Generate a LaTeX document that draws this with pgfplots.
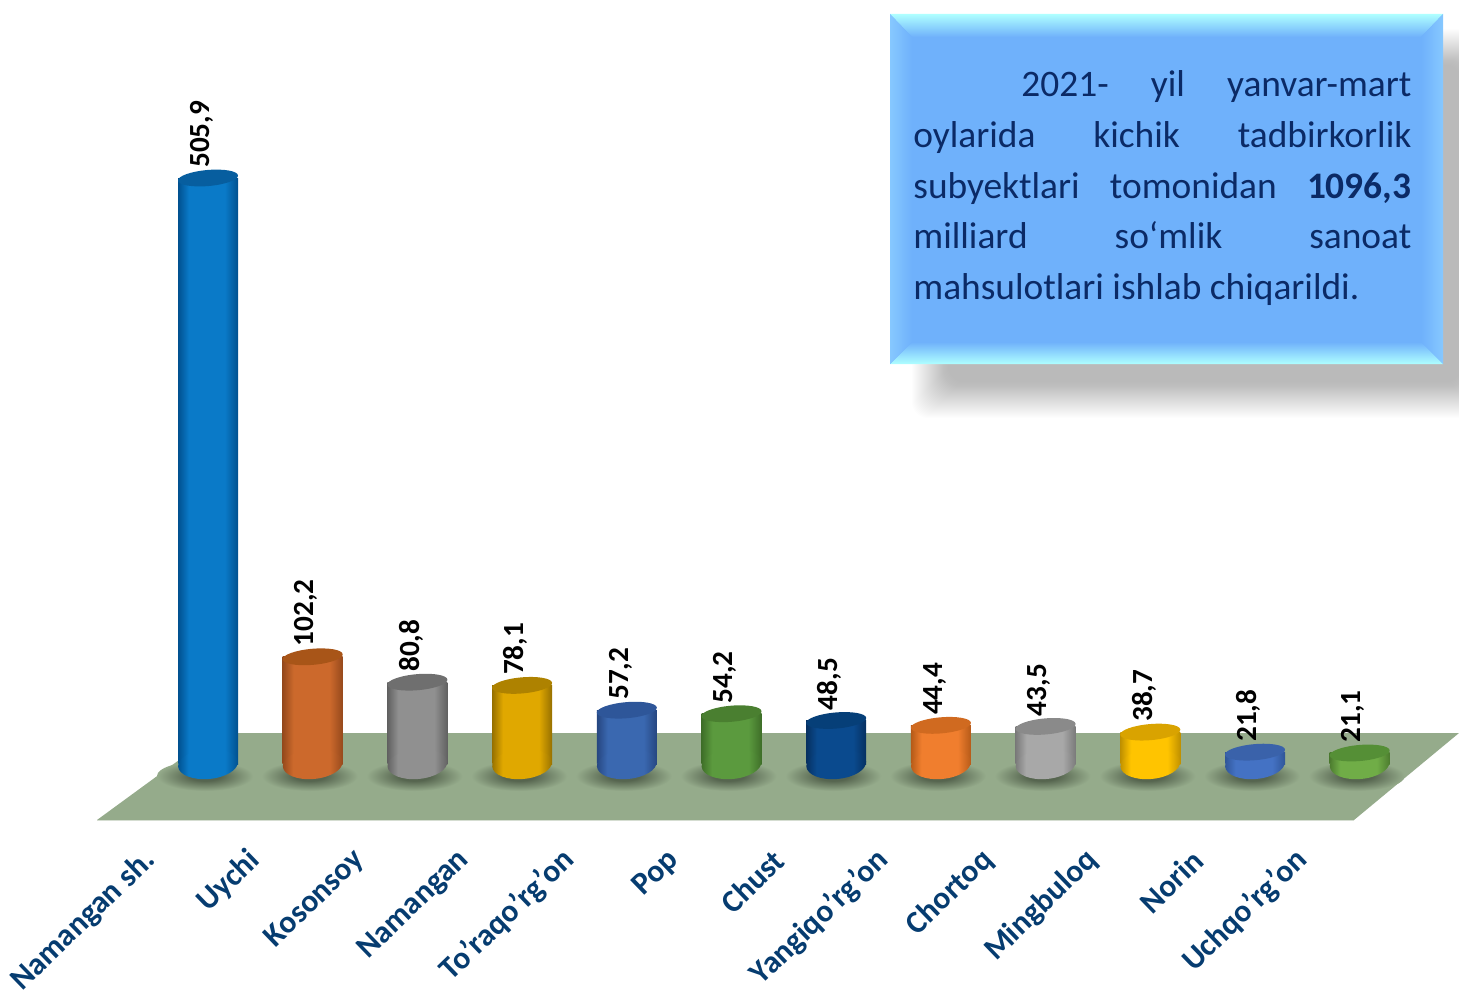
\documentclass[border=0pt]{standalone}
\usepackage{fontspec}
\setmainfont{Carlito}
\usepackage{pgfplots}
\pgfplotsset{compat=1.18}
\usetikzlibrary{shapes.geometric}
\pgfdeclareplotmark{topell}{\pgfpathellipse{\pgfpointorigin}{\pgfqpoint{15pt}{1.3pt}}{\pgfqpoint{-0.35pt}{4pt}}\pgfusepathqfill}
\newcommand\defcyl[4]{%
  \definecolor{e#1}{HTML}{#2}\definecolor{m#1}{HTML}{#3}\definecolor{t#1}{HTML}{#4}%
  \pgfdeclarehorizontalshading{cyl#1}{100bp}{color(0bp)=(e#1);color(25bp)=(e#1);color(34bp)=(m#1);color(64bp)=(m#1);color(75bp)=(e#1);color(100bp)=(e#1)}}
\defcyl{A}{00508F}{0A7AC8}{075E9F}
\defcyl{B}{96491C}{CC692C}{A85518}
\defcyl{C}{616161}{909090}{6F6F6F}
\defcyl{D}{967000}{E0A800}{AE8200}
\defcyl{E}{264680}{3A68B0}{2E5699}
\defcyl{F}{3E6E28}{5B9A3E}{4A7F30}
\defcyl{G}{063060}{0A4A8E}{063F78}
\defcyl{H}{B55A18}{F07E2E}{D06A20}
\defcyl{I}{7A7A7A}{A8A8A8}{8A8A8A}
\defcyl{J}{BF9000}{FFC400}{D9A300}
\defcyl{K}{2F5597}{4472C4}{3A62AA}
\defcyl{L}{4B7A2E}{70AD47}{558F36}
\definecolor{floorc}{HTML}{95AB8B}
\definecolor{shadowc}{HTML}{56654F}
\definecolor{boxc}{HTML}{6FB1FB}
\definecolor{bevel}{HTML}{AFFFFF}
\definecolor{bevelside}{HTML}{86C8FF}
\definecolor{boxtext}{HTML}{0B2A66}
\definecolor{ticktext}{HTML}{063C70}
\pgfdeclareradialshading{floorshadow}{\pgfpoint{0bp}{0bp}}{color(0bp)=(shadowc);color(8bp)=(shadowc);color(25bp)=(floorc);color(50bp)=(floorc)}
\newcommand\basey{11.8}
\newcommand\cyl[3]{%
  \addplot[only marks, mark=none, nodes near coords={},
    every node near coord/.style={ellipse, draw=none, inner sep=0pt, minimum width=48pt, minimum height=15pt,
      anchor=center, shade, shading=floorshadow, xshift=-1.5pt, yshift=-6pt}]
    coordinates {(#1,\basey)};
  \addplot[only marks, mark=none, nodes near coords={},
    every node near coord/.style={ellipse, draw=none, inner sep=0pt, minimum width=30pt, minimum height=15pt,
      anchor=center, shade, shading=cyl#3, rotate=5, yshift=0pt}]
    coordinates {(#1,\basey)};
  \addplot[ybar, bar width=30pt, bar shift=0pt, draw=none, shade, shading=cyl#3]
    coordinates {(#1,#2)};
  \addplot[only marks, mark=topell, mark options={fill=t#3, draw=none},
    nodes near coords,
    every node near coord/.style={xshift=-3.2pt, yshift=5pt, rotate=90, anchor=west, inner sep=0pt,
      text=black, font=\fontsize{14.6}{16}\selectfont\bfseries,
      /pgf/number format/.cd, fixed, fixed zerofill, precision=1, use comma, 1000 sep={}, assume math mode=true}]
    coordinates {(#1,#2)};
}
\begin{document}
\begin{tikzpicture}
\path[use as bounding box] (0,-114pt) rectangle (729.5pt,382pt);
\begin{scope}[x=.5pt,y=-.5pt,yshift=382pt]
  \fill[floorc] (97,820) -- (1354,820) -- (1459,733) -- (216,733) -- cycle;
  \draw[color=floorc!40!white,line width=.7pt] (97,820.5) -- (1354,820.5);
\end{scope}
\begin{axis}[
  at={(0,0)}, anchor=south west, scale only axis,
  width=729.5pt, height=382pt,
  xmin=-1.9866, xmax=11.9484, ymin=\basey, ymax=656,
  clip=false,
  axis line style={draw=none}, tick style={draw=none},
  ytick=\empty,
  xtick={0,1,2,3,4,5,6,7,8,9,10,11},
  xticklabels={Namangan sh.,Uychi,Kosonsoy,Namangan,To’raqo’rg’on,Pop,Chust,Yangiqo’rg’on,Chortoq,Mingbuloq,Norin,Uchqo’rg’on},
  xticklabel style={xshift=-28.5pt, yshift=-45.8pt, rotate=44, anchor=east, inner sep=0pt,
    text=ticktext, font=\fontsize{15.8}{18}\selectfont\bfseries},
]
\cyl{0}{505.9}{A}
\cyl{1}{102.2}{B}
\cyl{2}{80.8}{C}
\cyl{3}{78.1}{D}
\cyl{4}{57.2}{E}
\cyl{5}{54.2}{F}
\cyl{6}{48.5}{G}
\cyl{7}{44.4}{H}
\cyl{8}{43.5}{I}
\cyl{9}{38.7}{J}
\cyl{10}{21.8}{K}
\cyl{11}{21.1}{L}
\end{axis}
\begin{scope}[x=.5pt,y=-.5pt,yshift=382pt]
  \foreach \i in {18,17,...,-18}{
    \fill[black,opacity=.009,rounded corners=8pt] (930-\i,47-\i) rectangle (1480+\i,400+\i);
  }
  \fill[boxc] (890,14) rectangle (1443,364);
  \shade[top color=bevel,bottom color=boxc] (890,14) -- (1443,14) -- (1421,37) -- (912,37) -- cycle;
  \shade[top color=boxc,bottom color=bevel] (890,364) -- (1443,364) -- (1421,342) -- (912,342) -- cycle;
  \shade[left color=bevelside,right color=boxc] (890,14) -- (912,37) -- (912,342) -- (890,364) -- cycle;
  \shade[left color=boxc,right color=bevelside] (1443,14) -- (1421,37) -- (1421,342) -- (1443,364) -- cycle;
  \begin{scope}[every node/.style={anchor=base west,inner sep=0pt,text=boxtext,font=\fontsize{18.7}{20}\selectfont}]
  \node at (913,97) {\makebox[249pt][s]{\hspace*{54pt}2021-\hfill yil\hfill yanvar-mart}};
  \node at (913,147.5) {\makebox[249pt][s]{oylarida\hfill kichik\hfill tadbirkorlik}};
  \node at (913,198) {\makebox[249pt][s]{subyektlari\hfill tomonidan\hfill \textbf{1096,3}}};
  \node at (913,248.5) {\makebox[249pt][s]{milliard\hfill so‘mlik\hfill sanoat}};
  \node at (913,299) {mahsulotlari ishlab chiqarildi.};
  \end{scope}
\end{scope}
\end{tikzpicture}
\end{document}
